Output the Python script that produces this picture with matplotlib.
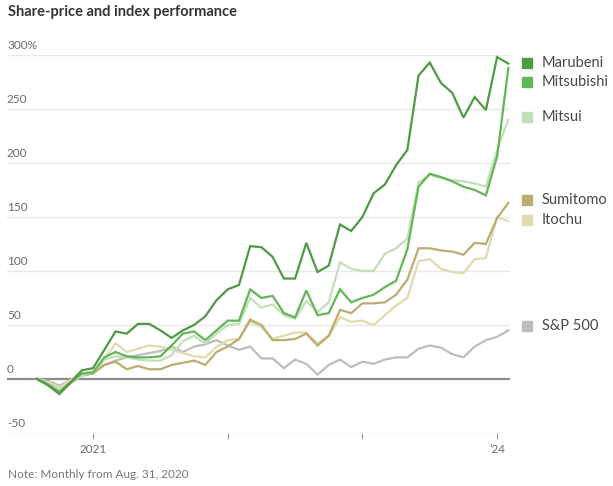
import matplotlib
matplotlib.use("Agg")
import matplotlib.pyplot as plt

# 月度数据, 2020-08 到 2024-02 (相对 2020-08-31 的涨幅, %)
months = list(range(43))

marubeni = [0, -6, -14, -3, 8, 10, 27, 44, 42, 51, 51, 45, 38, 45, 50, 58, 73, 83, 87,
            123, 122, 113, 93, 93, 126, 99, 105, 143, 137, 150, 172, 180, 198, 212,
            281, 293, 274, 265, 242, 261, 249, 298, 292]
mitsubishi = [0, -5, -12, -3, 5, 6, 20, 25, 21, 20, 20, 21, 31, 42, 44, 36, 45, 54, 54,
              83, 75, 77, 61, 57, 82, 59, 61, 83, 71, 75, 78, 85, 91, 120,
              178, 190, 187, 183, 178, 175, 170, 206, 288]
mitsui = [0, -4, -10, -3, 3, 6, 18, 21, 20, 18, 17, 17, 22, 35, 40, 33, 42, 50, 51,
          75, 66, 69, 59, 56, 72, 62, 71, 108, 102, 100, 100, 116, 121, 130,
          182, 189, 186, 184, 183, 181, 178, 212, 240]
sumitomo = [0, -5, -13, -4, 3, 5, 13, 16, 9, 12, 9, 9, 13, 15, 17, 13, 25, 30, 37,
            55, 50, 36, 36, 37, 42, 31, 40, 64, 61, 70, 70, 71, 78, 92,
            121, 121, 119, 118, 115, 126, 125, 149, 163]
itochu = [0, -3, -8, -1, 4, 6, 18, 33, 25, 28, 31, 30, 27, 24, 21, 20, 30, 36, 37,
          53, 48, 37, 40, 43, 43, 33, 40, 57, 53, 54, 50, 59, 68, 75,
          109, 111, 102, 99, 98, 111, 112, 150, 146]
sp500 = [0, -2, -6, -1, 5, 7, 13, 17, 20, 22, 24, 26, 30, 25, 30, 32, 36, 31, 27,
         30, 19, 19, 10, 18, 14, 4, 13, 18, 11, 16, 14, 18, 20, 20,
         28, 31, 29, 23, 20, 30, 36, 39, 45]

series_names = ["Marubeni", "Mitsubishi", "Mitsui", "Sumitomo", "Itochu", "S&P 500"]
series_values = [marubeni, mitsubishi, mitsui, sumitomo, itochu, sp500]
colors = ["#4e9a45", "#63b656", "#c3dfb9", "#bcac70", "#dfdab0", "#bdbdbd"]
legend_y = [293, 275, 243, 166, 147, 49]   # 图例标签位置 (数据坐标)

y_ticks = [-50, 0, 50, 100, 150, 200, 250, 300]
y_labels = ["-50", "0", "50", "100", "150", "200", "250", "300%"]
x_ticks = [5, 17, 29, 41]
x_labels = ["2021", "", "", "\u201924"]

plt.rcParams["font.family"] = ["Lato", "DejaVu Sans"]

fig = plt.figure(figsize=(6.13, 4.86), dpi=100)
ax = fig.add_axes([0.0114, 0.1091, 0.8206, 0.7778])

# 网格线
for v, lab in zip(y_ticks, y_labels):
    if v == 0:
        ax.axhline(v, color="#8c8c8c", lw=1.6, zorder=2)
    else:
        ax.axhline(v, color="#e8e8e8", lw=1.0, zorder=1)
    ax.text(0.0, v + 4, lab, transform=ax.get_yaxis_transform(),
            ha="left", va="bottom", fontsize=8.5, color="#6a6a6a")

# 折线 (S&P 在最下层)
for name, vals, col in reversed(list(zip(series_names, series_values, colors))):
    ax.plot(months, vals, color=col, lw=1.6, zorder=3, clip_on=False,
            solid_joinstyle="miter")

# 右侧图例
for name, col, ly in zip(series_names, colors, legend_y):
    ax.plot([43.7], [ly], marker="s", ms=7, color=col, clip_on=False, zorder=4)
    ax.text(45.0, ly, name, ha="left", va="center", fontsize=10.5,
            color="#484848", clip_on=False)

ax.set_xlim(-2.67, 42.15)
ax.set_ylim(-50, 300)
ax.set_yticks([])
ax.set_xticks(x_ticks)
ax.set_xticklabels(x_labels)
ax.tick_params(axis="x", length=4, width=0.8, color="#999999", labelcolor="#6a6a6a",
               labelsize=8.5, pad=4)
for s in ax.spines.values():
    s.set_visible(False)

fig.text(8 / 613, 1 - 12 / 486, "Share-price and index performance", ha="left",
         va="center", fontsize=10.5, fontweight="bold", color="#333333")
fig.text(8 / 613, 1 - 474 / 486, "Note: Monthly from Aug. 31, 2020", ha="left",
         va="center", fontsize=8.5, color="#777777")

fig.savefig("out.png", dpi=100)
